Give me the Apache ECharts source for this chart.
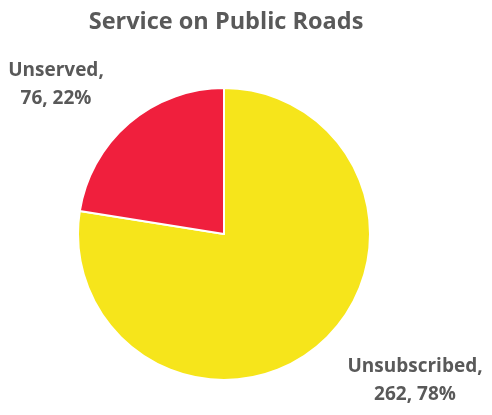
<!DOCTYPE html>
<html><head><meta charset="utf-8">
<script src="https://cdn.jsdelivr.net/npm/echarts@6/dist/echarts.min.js"></script>
<style>html,body{margin:0;padding:0;background:#fff}#c{width:492px;height:415px}</style>
</head><body><div id="c"></div>
<script>
const categories = ['Unsubscribed', 'Unserved'];
const values = [262, 76];
const percents = ['78%', '22%'];
const colors = ['#F6E51B', '#F01F3D'];
const titleText = 'Service on Public Roads';

const chart = echarts.init(document.getElementById('c'), null, {renderer: 'canvas'});
const labelPos = {
  0: {x: 415, y: 381},
  1: {x: 56, y: 85}
};
chart.setOption({
  animation: false,
  title: {
    text: titleText, left: 221, top: 5, textAlign: 'center',
    textStyle: {fontFamily: 'Open Sans', fontWeight: 'bold', fontSize: 23.5, color: '#595959'}
  },
  series: [{
    type: 'pie',
    center: [224, 234],
    radius: [0, 146],
    startAngle: 90,
    clockwise: true,
    itemStyle: {borderColor: '#fff', borderWidth: 2},
    label: {
      show: true, position: 'outside', overflow: 'none',
      formatter: p => p.name + ',\n' + p.value + ', ' + percents[p.dataIndex],
      fontFamily: 'Open Sans', fontWeight: 'bold', fontSize: 19, lineHeight: 28,
      color: '#595959', align: 'center'
    },
    labelLine: {show: false},
    labelLayout: function (params) {
      const p = labelPos[params.dataIndex];
      return {x: p.x, y: p.y, align: 'center', verticalAlign: 'middle'};
    },
    data: categories.map((c, i) => ({name: c, value: values[i], itemStyle: {color: colors[i]}}))
  }]
});
</script></body></html>
